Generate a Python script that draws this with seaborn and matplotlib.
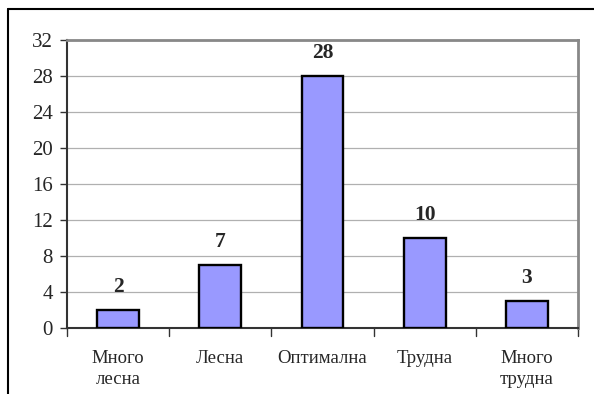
import matplotlib
matplotlib.use("Agg")
import matplotlib.pyplot as plt
import seaborn as sns
import pandas as pd
from matplotlib.lines import Line2D

categories = ["Много\nлесна", "Лесна", "Оптимална", "Трудна", "Много\nтрудна"]
counts = [2, 7, 28, 10, 3]
y_ticks = [0, 4, 8, 12, 16, 20, 24, 28, 32]

sns.set_theme(style="white")
plt.rcParams["font.family"] = ["Liberation Serif", "DejaVu Serif"]

df = pd.DataFrame({"category": categories, "count": counts})

fig = plt.figure(figsize=(5.94, 3.94), dpi=100)
ax = fig.add_axes([67 / 594, 1 - 328 / 394, (578 - 67) / 594, (328 - 40) / 394])

sns.barplot(data=df, x="category", y="count", ax=ax, color="#9999FF",
            saturation=1, width=0.41, edgecolor="black", linewidth=1.7, zorder=3)

ax.set_ylim(0, 32)
ax.set_xlim(-0.5, len(categories) - 0.5)
ax.set_yticks(y_ticks)
ax.set_yticklabels([str(t) for t in y_ticks], fontsize=15)
ax.yaxis.grid(True, color="#b0b0b0", linewidth=0.9, zorder=0)
ax.set_axisbelow(True)
ax.set_xlabel("")
ax.set_ylabel("")

# category labels sit between the boundary ticks
ax.set_xticks(range(len(categories)))
ax.set_xticklabels(categories, fontsize=13.5, linespacing=1.3, va="top")
ax.tick_params(axis="x", length=0, pad=16)
for b in [i - 0.5 for i in range(len(categories) + 1)]:
    ax.plot([b, b], [0, -0.9], color="#333333", lw=1.0, clip_on=False,
            transform=ax.transData)
ax.tick_params(axis="y", left=True, length=5, width=1.0, color="#333333", pad=5)

for side in ["left", "bottom"]:
    ax.spines[side].set_color("#333333")
    ax.spines[side].set_linewidth(1.5)
for side in ["top", "right"]:
    ax.spines[side].set_color("#888888")
    ax.spines[side].set_linewidth(2.0)

for i, v in enumerate(counts):
    ax.annotate(str(v), xy=(i, v), xytext=(0, 13), textcoords="offset points",
                ha="center", va="baseline", fontsize=15.5, fontweight="bold")

# outer chart frame
fig.add_artist(Line2D([7.5 / 594, 7.5 / 594], [0, 1 - 9 / 394], color="black",
                      lw=1.5, transform=fig.transFigure))
fig.add_artist(Line2D([7.5 / 594, 1], [1 - 9 / 394, 1 - 9 / 394], color="black",
                      lw=1.5, transform=fig.transFigure))

fig.savefig("out.png", dpi=100)
